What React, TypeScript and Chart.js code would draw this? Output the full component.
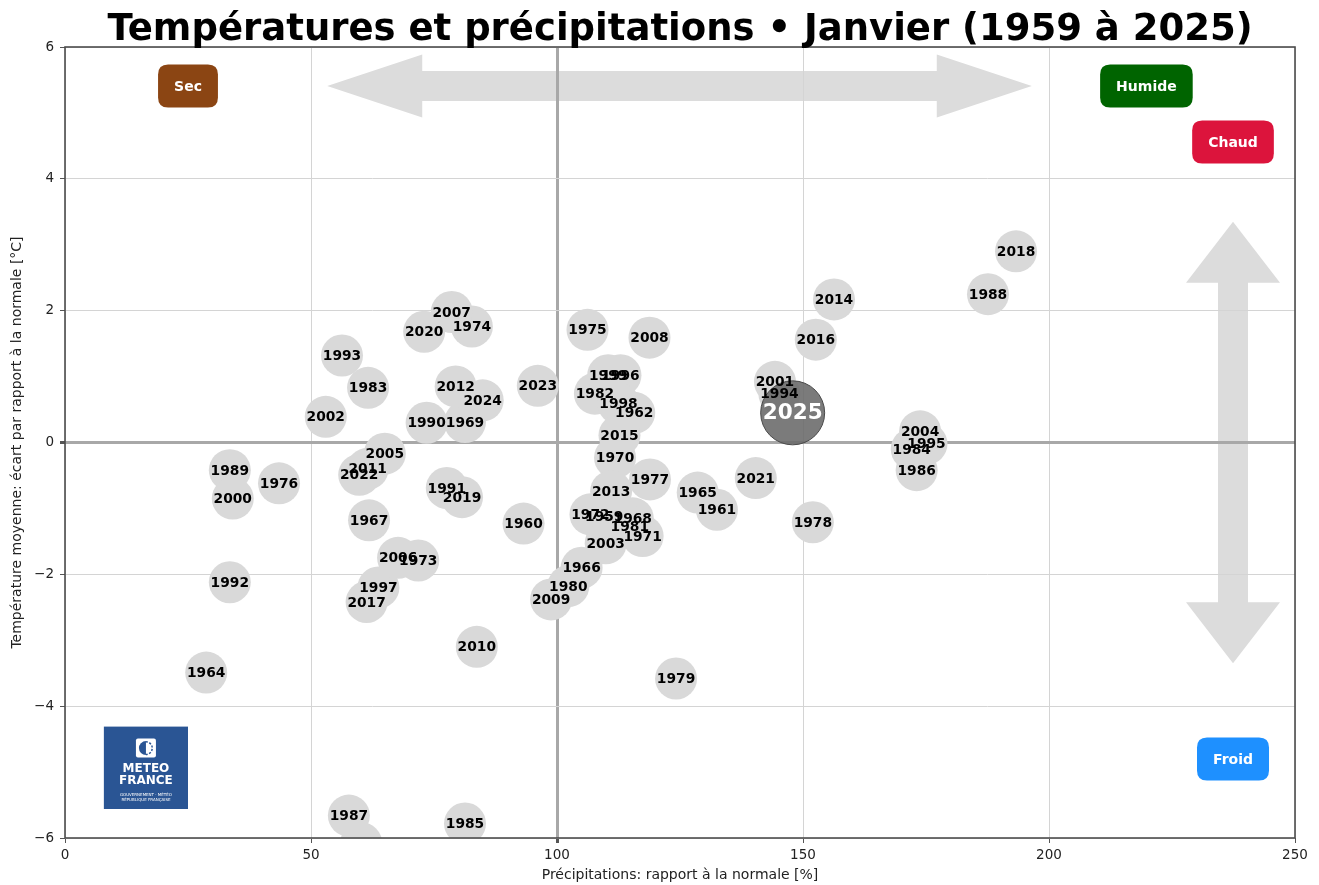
import React, { useEffect, useRef } from "react";
import { Chart, registerables } from "chart.js";

Chart.register(...registerables);

// ---------- DATA ----------
const years = [
  1959, 1960, 1961, 1962, 1963, 1964, 1965, 1966, 1967, 1968, 1969, 1970, 1971, 1972, 1973, 1974, 1975,
  1976, 1977, 1978, 1979, 1980, 1981, 1982, 1983, 1984, 1985, 1986, 1987, 1988, 1989, 1990, 1991, 1992,
  1993, 1994, 1995, 1996, 1997, 1998, 1999, 2000, 2001, 2002, 2003, 2004, 2005, 2006, 2007, 2008, 2009,
  2010, 2011, 2012, 2013, 2014, 2015, 2016, 2017, 2018, 2019, 2020, 2021, 2022, 2023, 2024,
];
const precipitation = [
  109.6, 93.2, 132.5, 115.7, 60.2, 28.7, 128.6, 105.0, 61.8, 115.4, 81.3, 111.8, 117.4, 106.8, 71.8, 82.7, 106.2,
  43.5, 118.9, 152.0, 124.2, 102.3, 114.8, 107.7, 61.6, 172.1, 81.3, 173.1, 57.7, 187.6, 33.5, 73.5, 77.6, 33.5,
  56.3, 145.2, 175.1, 112.9, 63.7, 112.5, 110.4, 34.1, 144.3, 53.0, 109.9, 173.8, 65.0, 67.7, 78.6, 118.8, 98.8,
  83.7, 61.5, 79.4, 111.0, 156.3, 112.7, 152.6, 61.3, 193.3, 80.7, 73.0, 140.4, 59.8, 96.1, 84.9,
];
const temperature = [
  -1.12, -1.23, -1.02, 0.45, -6.08, -3.49, -0.76, -1.9, -1.18, -1.15, 0.31, -0.23, -1.42, -1.09, -1.79, 1.76, 1.71,
  -0.62, -0.56, -1.21, -3.58, -2.18, -1.27, 0.74, 0.83, -0.1, -5.78, -0.42, -5.66, 2.25, -0.42, 0.3, -0.69, -2.12,
  1.32, 0.74, -0.02, 1.02, -2.2, 0.59, 1.02, -0.85, 0.92, 0.39, -1.53, 0.17, -0.17, -1.75, 1.98, 1.59, -2.38,
  -3.1, -0.4, 0.85, -0.74, 2.17, 0.11, 1.56, -2.42, 2.9, -0.83, 1.68, -0.54, -0.49, 0.86, 0.64,
];

const currentYear = [2025];
const currentPrecipitation = [147.9];
const currentTemperature = [0.45];

const xTickValues = [0, 50, 100, 150, 200, 250];
const yTickValues = [-6, -4, -2, 0, 2, 4, 6];

const titleText = "Températures et précipitations • Janvier (1959 à 2025)";
const xTitle = "Précipitations: rapport à la normale [%]";
const yTitle = "Température moyenne: écart par rapport à la normale [°C]";

const badgeLabels = ["Sec", "Humide", "Chaud", "Froid"];
const badgeColors = ["#8B4513", "#006400", "#DC143C", "#1E90FF"];
const badgeX = [25.0, 219.8, 237.4, 237.4];
const badgeY = [5.41, 5.41, 4.56, -4.8];

const FONT = "'DejaVu Sans', 'Noto Sans', sans-serif";

function roundRectPath(ctx: CanvasRenderingContext2D, x: number, y: number, w: number, h: number, r: number) {
  ctx.beginPath();
  ctx.moveTo(x + r, y);
  ctx.lineTo(x + w - r, y);
  ctx.quadraticCurveTo(x + w, y, x + w, y + r);
  ctx.lineTo(x + w, y + h - r);
  ctx.quadraticCurveTo(x + w, y + h, x + w - r, y + h);
  ctx.lineTo(x + r, y + h);
  ctx.quadraticCurveTo(x, y + h, x, y + h - r);
  ctx.lineTo(x, y + r);
  ctx.quadraticCurveTo(x, y, x + r, y);
  ctx.closePath();
}

const decorPlugin = {
  id: "decor",
  beforeDraw(chart: any) {
    const { ctx, scales } = chart;
    const xs = scales.x;
    const ys = scales.y;
    ctx.save();
    ctx.fillStyle = "#ffffff";
    ctx.fillRect(0, 0, chart.width, chart.height);

    ctx.fillStyle = "#dcdcdc";
    // horizontal double arrow
    {
      const x1 = xs.getPixelForValue(53.3);
      const x2 = xs.getPixelForValue(196.5);
      const yc = ys.getPixelForValue(5.41);
      const sh = 15, hh = 31.5, hl = 95;
      ctx.beginPath();
      ctx.moveTo(x1, yc);
      ctx.lineTo(x1 + hl, yc - hh);
      ctx.lineTo(x1 + hl, yc - sh);
      ctx.lineTo(x2 - hl, yc - sh);
      ctx.lineTo(x2 - hl, yc - hh);
      ctx.lineTo(x2, yc);
      ctx.lineTo(x2 - hl, yc + hh);
      ctx.lineTo(x2 - hl, yc + sh);
      ctx.lineTo(x1 + hl, yc + sh);
      ctx.lineTo(x1 + hl, yc + hh);
      ctx.closePath();
      ctx.fill();
    }
    // vertical double arrow
    {
      const xc = xs.getPixelForValue(237.4);
      const y1 = ys.getPixelForValue(3.35);
      const y2 = ys.getPixelForValue(-3.35);
      const sh = 15, hh = 47, hl = 61;
      ctx.beginPath();
      ctx.moveTo(xc, y1);
      ctx.lineTo(xc + hh, y1 + hl);
      ctx.lineTo(xc + sh, y1 + hl);
      ctx.lineTo(xc + sh, y2 - hl);
      ctx.lineTo(xc + hh, y2 - hl);
      ctx.lineTo(xc, y2);
      ctx.lineTo(xc - hh, y2 - hl);
      ctx.lineTo(xc - sh, y2 - hl);
      ctx.lineTo(xc - sh, y1 + hl);
      ctx.lineTo(xc - hh, y1 + hl);
      ctx.closePath();
      ctx.fill();
    }
    ctx.restore();
  },
  afterDatasetsDraw(chart: any) {
    const { ctx, chartArea, scales } = chart;
    const xs = scales.x;
    const ys = scales.y;
    ctx.save();
    ctx.beginPath();
    ctx.rect(chartArea.left, chartArea.top, chartArea.right - chartArea.left, chartArea.bottom - chartArea.top);
    ctx.clip();
    ctx.textAlign = "center";
    ctx.textBaseline = "middle";

    // year labels
    const meta = chart.getDatasetMeta(0);
    ctx.fillStyle = "#000";
    ctx.font = `bold 13.8px ${FONT}`;
    meta.data.forEach((pt: any, i: number) => {
      ctx.fillText(String(years[i]), pt.x, pt.y + 1);
    });
    const meta2 = chart.getDatasetMeta(1);
    ctx.fillStyle = "#fff";
    ctx.font = `bold 21.5px ${FONT}`;
    meta2.data.forEach((pt: any, i: number) => {
      ctx.fillText(String(currentYear[i]), pt.x, pt.y + 1);
    });

    // badges
    ctx.font = `bold 14px ${FONT}`;
    badgeLabels.forEach((lab, i) => {
      const cx = xs.getPixelForValue(badgeX[i]);
      const cy = ys.getPixelForValue(badgeY[i]);
      const w = ctx.measureText(lab).width + 32;
      const h = 43;
      ctx.fillStyle = badgeColors[i];
      roundRectPath(ctx, cx - w / 2, cy - h / 2, w, h, 10);
      ctx.fill();
      ctx.fillStyle = "#fff";
      ctx.fillText(lab, cx, cy + 1);
    });

    // Météo-France logo
    {
      const lx = xs.getPixelForValue(7.9);
      const rx = xs.getPixelForValue(25.0);
      const ty = ys.getPixelForValue(-4.31);
      const by = ys.getPixelForValue(-5.56);
      ctx.fillStyle = "#2a5594";
      ctx.fillRect(lx, ty, rx - lx, by - ty);
      const cx = (lx + rx) / 2;
      ctx.fillStyle = "#fff";
      roundRectPath(ctx, cx - 10, ty + 12, 20, 19, 2);
      ctx.fill();
      ctx.fillStyle = "#2a5594";
      ctx.beginPath();
      ctx.arc(cx, ty + 21.5, 7, Math.PI / 2, (3 * Math.PI) / 2);
      ctx.closePath();
      ctx.fill();
      ctx.strokeStyle = "#2a5594";
      ctx.lineWidth = 1.5;
      ctx.setLineDash([2, 1.5]);
      ctx.beginPath();
      ctx.arc(cx, ty + 21.5, 6.3, -Math.PI / 2, Math.PI / 2);
      ctx.stroke();
      ctx.setLineDash([]);
      ctx.fillStyle = "#fff";
      ctx.font = `bold 12px ${FONT}`;
      ctx.fillText("METEO", cx, ty + 42);
      ctx.fillText("FRANCE", cx, ty + 54);
      ctx.font = `4px ${FONT}`;
      ctx.fillText("GOUVERNEMENT · MÉTÉO", cx, ty + 68);
      ctx.fillText("RÉPUBLIQUE FRANÇAISE", cx, ty + 73);
    }
    ctx.restore();
  },
  afterDraw(chart: any) {
    const { ctx, chartArea } = chart;
    ctx.save();
    ctx.strokeStyle = "#4d4d4d";
    ctx.lineWidth = 1.6;
    ctx.strokeRect(chartArea.left, chartArea.top, chartArea.right - chartArea.left, chartArea.bottom - chartArea.top);
    // title
    ctx.fillStyle = "#000";
    ctx.font = `bold 37px ${FONT}`;
    ctx.textAlign = "center";
    ctx.textBaseline = "alphabetic";
    ctx.fillText(titleText, (chartArea.left + chartArea.right) / 2, 40);
    ctx.restore();
  },
};

export default function App() {
  const canvasRef = useRef<HTMLCanvasElement | null>(null);

  useEffect(() => {
    document.body.style.margin = "0";
    const canvas = canvasRef.current;
    if (!canvas) return;

    const minus = (v: number) => (v < 0 ? "\u2212" + Math.abs(v) : String(v));

    const chart = new Chart(canvas, {
      type: "scatter",
      data: {
        datasets: [
          {
            label: "historique",
            data: years.map((_, i) => ({ x: precipitation[i], y: temperature[i] })),
            backgroundColor: "#d9d9d9",
            borderWidth: 0,
            pointRadius: 21,
            pointHoverRadius: 21,
            order: 2,
          },
          {
            label: "2025",
            data: currentYear.map((_, i) => ({ x: currentPrecipitation[i], y: currentTemperature[i] })),
            backgroundColor: "rgba(105,105,105,0.88)",
            borderColor: "#4a4a4a",
            borderWidth: 1,
            pointRadius: 32,
            pointHoverRadius: 32,
            order: 1,
          },
        ],
      },
      options: {
        responsive: false,
        maintainAspectRatio: false,
        animation: false,
        devicePixelRatio: 1,
        events: [],
        layout: { autoPadding: false, padding: { left: 0, right: 24, top: 47, bottom: 0 } },
        plugins: {
          legend: { display: false },
          tooltip: { enabled: false },
          title: { display: false },
        },
        scales: {
          x: {
            type: "linear",
            min: 0,
            max: 250,
            afterBuildTicks: (scale: any) => {
              scale.ticks = xTickValues.map((v) => ({ value: v }));
            },
            afterFit: (scale: any) => {
              scale.height = 47;
              scale.paddingLeft = 0;
              scale.paddingRight = 0;
            },
            ticks: {
              callback: (v: any) => minus(Number(v)),
              font: { family: FONT, size: 13.5 },
              color: "#222",
              padding: 4,
              maxRotation: 0,
            },
            grid: {
              color: (c: any) => (c.tick && c.tick.value === 100 ? "#a8a8a8" : "#d4d4d4"),
              lineWidth: (c: any) => (c.tick && c.tick.value === 100 ? 3 : 1),
              tickColor: "#555",
              tickLength: 5,
            },
            border: { display: false },
            title: {
              display: true,
              text: xTitle,
              font: { family: FONT, size: 14 },
              color: "#222",
              padding: { top: 0, bottom: 1 },
            },
          },
          y: {
            type: "linear",
            min: -6,
            max: 6,
            afterBuildTicks: (scale: any) => {
              scale.ticks = yTickValues.map((v) => ({ value: v }));
            },
            afterFit: (scale: any) => {
              scale.width = 65;
              scale.paddingTop = 0;
              scale.paddingBottom = 0;
            },
            ticks: {
              callback: (v: any) => minus(Number(v)),
              font: { family: FONT, size: 13.5 },
              color: "#222",
              padding: 6,
            },
            grid: {
              color: (c: any) => (c.tick && c.tick.value === 0 ? "#a8a8a8" : "#d4d4d4"),
              lineWidth: (c: any) => (c.tick && c.tick.value === 0 ? 3 : 1),
              tickColor: "#555",
              tickLength: 5,
            },
            border: { display: false },
            title: {
              display: true,
              text: yTitle,
              font: { family: FONT, size: 14 },
              color: "#222",
              padding: { top: 9, bottom: 0 },
            },
          },
        },
      },
      plugins: [decorPlugin],
    } as any);

    return () => chart.destroy();
  }, []);

  return (
    <div style={{ width: 1319, height: 885, background: "#fff" }}>
      <canvas ref={canvasRef} width={1319} height={885} style={{ display: "block", width: 1319, height: 885 }} />
    </div>
  );
}
